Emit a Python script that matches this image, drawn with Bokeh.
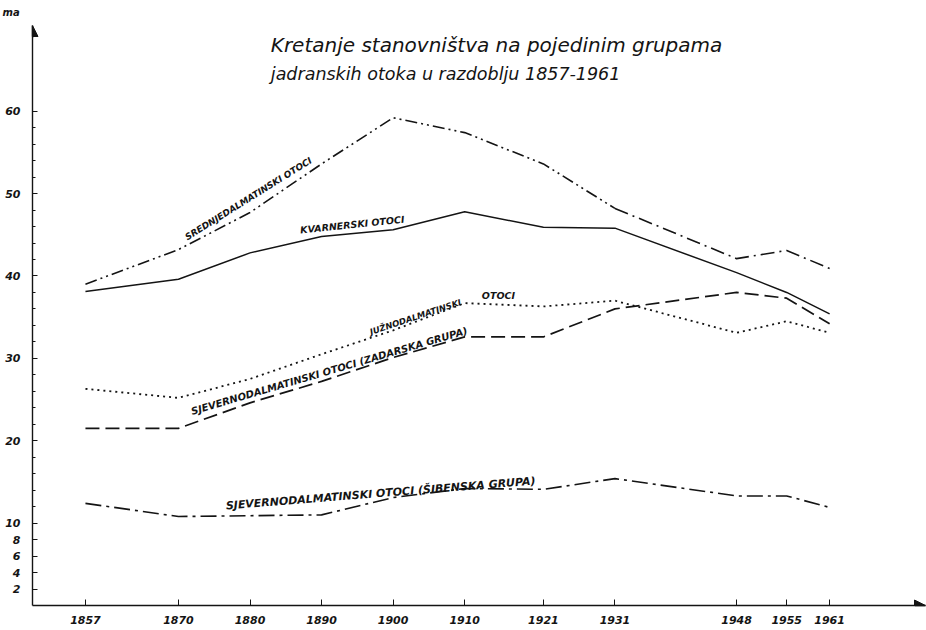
from bokeh.plotting import figure
from bokeh.models import (ColumnDataSource, FixedTicker, Range1d, Label, Arrow, NormalHead)
from bokeh.core.properties import value
from bokeh.embed import file_html
from bokeh.resources import INLINE
import math

# ---------------- data (thousands of inhabitants) ----------------
years = [1857, 1870, 1880, 1890, 1900, 1910, 1921, 1931, 1948, 1955, 1961]
srednjedalmatinski = [39.0, 43.2, 47.7, 53.6, 59.2, 57.4, 53.6, 48.2, 42.1, 43.1, 40.9]
kvarnerski = [38.1, 39.6, 42.8, 44.8, 45.6, 47.8, 45.9, 45.8, 40.4, 38.0, 35.4]
juznodalmatinski = [26.3, 25.2, 27.5, 30.5, 33.4, 36.7, 36.3, 37.0, 33.1, 34.5, 33.1]
zadarska_grupa = [21.5, 21.5, 24.6, 27.2, 30.1, 32.6, 32.6, 36.0, 38.0, 37.3, 34.2]
sibenska_grupa = [12.4, 10.8, 10.9, 11.0, 13.1, 14.2, 14.1, 15.4, 13.3, 13.3, 11.9]

y_tick_major = [2, 4, 6, 8, 10, 20, 30, 40, 50, 60]
y_tick_minor = [12, 14, 16, 18, 22, 24, 26, 28, 32, 34, 36, 38,
                42, 44, 46, 48, 52, 54, 56, 58]
x_tick_labels = {y: str(y) for y in years}

title_line1 = "Kretanje stanovništva na pojedinim grupama"
title_line2 = "jadranskih otoka u razdoblju 1857-1961"
unit_fragment = "ma"

# ---------------- figure ----------------
INK = "#141414"
X0, X1 = 1849.6, 1974.4
Y0, Y1 = 0.0, 70.4

p = figure(width=926, height=630, output_backend="svg", toolbar_location=None,
           x_range=Range1d(X0, X1), y_range=Range1d(Y0, Y1),
           min_border_left=32, min_border_right=1, min_border_top=25,
           min_border_bottom=25)
p.outline_line_color = None
p.grid.visible = False
p.background_fill_color = "white"
p.border_fill_color = "white"

p.title.text = unit_fragment
p.title.align = "left"
p.title.offset = -30
p.title.vertical_align = "top"
p.title.text_font = "DejaVu Sans"
p.title.text_font_style = "bold italic"
p.title.text_font_size = "10px"
p.title.text_color = INK
p.title.standoff = 12

for ax in (p.xaxis[0], p.yaxis[0]):
    ax.axis_line_color = INK
    ax.axis_line_width = 1.4
    ax.major_tick_line_color = INK
    ax.minor_tick_line_color = INK
    ax.major_label_text_font = "DejaVu Sans"
    ax.major_label_text_font_style = "bold italic"
    ax.major_label_text_font_size = "11px"
    ax.major_label_text_color = INK
    ax.major_tick_out = 0
    ax.minor_tick_out = 0

p.xaxis.ticker = FixedTicker(ticks=years)
p.xaxis.major_label_overrides = x_tick_labels
p.xaxis.major_tick_in = 6
p.xaxis.minor_tick_line_color = None
p.xaxis.major_label_standoff = 10

p.yaxis.ticker = FixedTicker(ticks=y_tick_major, minor_ticks=y_tick_minor)
p.yaxis.major_tick_in = 5
p.yaxis.minor_tick_in = 3
p.yaxis.major_label_standoff = 12

# axis arrows
p.add_layout(Arrow(end=NormalHead(size=11, fill_color=INK, line_color=INK),
                   x_start=X1 - 1.5, y_start=Y0, x_end=X1, y_end=Y0,
                   line_color=INK, line_width=1.4))
p.add_layout(Arrow(end=NormalHead(size=11, fill_color=INK, line_color=INK),
                   x_start=X0, y_start=Y1 - 1.5, x_end=X0, y_end=Y1,
                   line_color=INK, line_width=1.4))

src = ColumnDataSource(dict(x=years, sred=srednjedalmatinski, kvar=kvarnerski,
                            juzn=juznodalmatinski, zad=zadarska_grupa,
                            sib=sibenska_grupa))
src_a = ColumnDataSource(dict(x=years[:8], sred=srednjedalmatinski[:8]))
src_b = ColumnDataSource(dict(x=years[7:], sred=srednjedalmatinski[7:]))

p.line("x", "sred", source=src_a, line_color=INK, line_width=1.6, line_dash="12 4 2 4 2 4")
p.line("x", "sred", source=src_b, line_color=INK, line_width=1.6, line_dash="14 5 2 5")
p.line("x", "kvar", source=src, line_color=INK, line_width=1.5)
p.line("x", "juzn", source=src, line_color=INK, line_width=1.8, line_dash="2 4")
p.line("x", "zad", source=src, line_color=INK, line_width=1.7, line_dash="14 6")
p.line("x", "sib", source=src, line_color=INK, line_width=1.6, line_dash="16 5 3 5")

# series labels written along the lines
lab = dict(
    text=["SREDNJEDALMATINSKI OTOCI", "KVARNERSKI OTOCI", "JUŽNODALMATINSKI", "OTOCI",
          "SJEVERNODALMATINSKI OTOCI (ZADARSKA GRUPA)",
          "SJEVERNODALMATINSKI OTOCI (ŠIBENSKA GRUPA)"],
    x=[1871.4, 1887.1, 1897.0, 1912.4, 1872.0, 1876.7],
    y=[44.1, 44.9, 32.6, 37.0, 22.9, 11.3],
    angle=[math.radians(a) for a in (32, 6, 18.5, 0, 16.4, 4.6)],
    size=["9px", "9.5px", "8.5px", "9.5px", "10px", "11px"],
)
p.text("x", "y", text="text", angle="angle", source=ColumnDataSource(lab),
       text_font=value("DejaVu Sans"), text_font_style="bold italic",
       text_font_size="size", text_color=INK, text_align="left",
       text_baseline="bottom")

# title
for txt, yy, fs in ((title_line1, 68.0, "20px"), (title_line2, 64.5, "17.5px")):
    p.add_layout(Label(x=1882.9, y=yy, text=txt, text_font="DejaVu Sans",
                       text_font_style="italic", text_font_size=fs,
                       text_color=INK, text_baseline="alphabetic"))

open("out.html", "w").write(file_html(p, INLINE))
